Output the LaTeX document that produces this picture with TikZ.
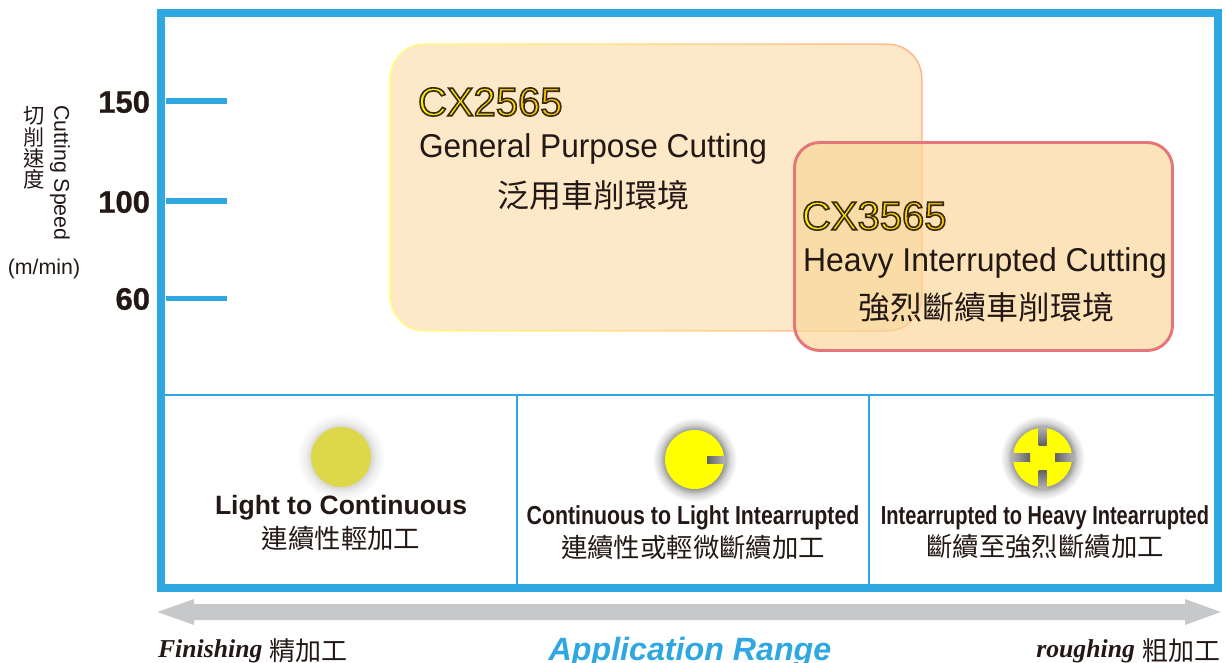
\documentclass[tikz,border=0pt]{standalone}
\usepackage{fontspec}
\setmainfont{Liberation Sans}
\newfontfamily\cjk{Noto Sans CJK TC}
\newfontfamily\tms{Liberation Serif}
\newfontfamily\modelf[FakeBold=4]{Liberation Sans}
\newfontfamily\heavyf[FakeBold=.8]{Liberation Sans}
\usetikzlibrary{calc}
\definecolor{frameblue}{HTML}{2FA8E1}
\definecolor{ink}{HTML}{231815}
\definecolor{arrowgrey}{HTML}{C7C8CA}
\definecolor{boxa}{HTML}{FDE9C8}
\definecolor{boxb}{HTML}{FAD698}
\definecolor{boxbline}{HTML}{E4757A}
\definecolor{dotdull}{HTML}{DDD84A}
\definecolor{dotyellow}{HTML}{FFFF00}
\pgfdeclareradialshading{glowlight}{\pgfpoint{0bp}{0bp}}{color(0bp)=(black!16); color(17bp)=(black!16); color(20bp)=(black!7); color(25bp)=(white); color(50bp)=(white)}
\pgfdeclareradialshading{glowdark}{\pgfpoint{0bp}{0bp}}{color(0bp)=(black!42); color(16.5bp)=(black!42); color(20bp)=(black!16); color(24bp)=(white); color(50bp)=(white)}
\newcommand{\fs}[1]{\fontsize{#1}{#1}\selectfont}
\newcommand{\ltr}[2]{\special{color push rgb #1}\special{pdf:code 0.22 0.17 0.07 RG}#2\special{color pop}}
\newcommand{\modelname}[6]{\ltr{1 .94 0}{#1}\ltr{1 .90 0}{#2}\ltr{1 .87 0}{#3}\ltr{1 .84 0}{#4}\ltr{1 .81 0}{#5}\ltr{1 .78 0}{#6}}
\tikzset{
  every node/.style={inner sep=0pt,outer sep=0pt,text=ink},
  tick/.style={draw=frameblue,line width=3.8pt},
  divider/.style={draw=frameblue,line width=1.5pt},
  speed/.style={font=\heavyf\bfseries\fs{23.25pt},anchor=east},
  modeltxt/.style={font=\modelf\fs{30pt},anchor=west},
  engtxt/.style={font=\fs{24.75pt},anchor=west,transform shape},
  cjktxt/.style={font=\cjk\fs{24pt}},
  boldcap/.style={font=\bfseries\fs{19.9pt}},
  narrowcap/.style={font=\bfseries\fs{19.5pt},transform shape},
  cjkcap/.style={font=\cjk\fs{19.8pt}},
  axistxt/.style={font=\fs{16pt}},
  endtxt/.style={font=\tms\bfseries\itshape\fs{19.3pt}},
  notchh/.style={left color=black!62,right color=black!30},
  notchr/.style={left color=black!30,right color=black!62},
  notchv/.style={top color=black!30,bottom color=black!62},
  notchu/.style={top color=black!62,bottom color=black!30},
}
\begin{document}
\begin{tikzpicture}[x=.75pt,y=-.75pt]
\useasboundingbox (0,0) rectangle (1225,663);
% frame
\draw[frameblue,line width=6pt,line join=miter] (161.3,13.5) rectangle (1218,588);
\draw[divider] (165,395) -- (1214,395);
\draw[divider] (517,395) -- (517,584);
\draw[divider] (869,395) -- (869,584);
% ticks
\draw[tick] (166,101) -- (227,101);
\draw[tick] (166,201) -- (227,201);
\draw[tick] (166,298.5) -- (227,298.5);
\node[speed] (s150) at (150,102) {150};
\node[speed] (s100) at (150,202) {100};
\node[speed] (s60) at (150,299) {60};
% axis labels
\node[axistxt,rotate=-90] (axen) at (60,173) {Cutting Speed};
\node[font=\cjk\fs{16pt},align=center] (axzh) at (34,148) {切\\削\\速\\度};
\node[axistxt] (axunit) at (44,269) {(m/min)};
% boxes
\shade[left color=yellow!50!white,right color=red!35!orange!45!white,rounded corners=26pt] (389.5,43.5) rectangle (922.5,331.5);
\fill[boxa,rounded corners=25pt] (391,45) rectangle (921,330);
\node[modeltxt] (m1) at (418,102) {\modelname CX2565};
\node[engtxt,xscale=.958] (e1) at (419,149) {General Purpose Cutting};
\node[cjktxt] (z1) at (593.5,195) {泛用車削環境};
\draw[draw=boxbline,line width=2.2pt,fill=boxb,fill opacity=.68,rounded corners=19pt] (794.5,142.5) rectangle (1172.5,350.5);
\node[modeltxt] (m2) at (802,216) {\modelname CX3565};
\node[engtxt,xscale=.968] (e2) at (803,263) {Heavy Interrupted Cutting};
\node[cjktxt] (z2) at (986.5,307) {強烈斷續車削環境};
% dots
\shade[shading=glowlight] (341,457) circle (44);
\fill[dotdull] (341,457) circle (30);
\shade[shading=glowdark] (694.5,459.5) circle (44);
\fill[dotyellow] (694.5,459.5) circle (29.5);
\shade[notchh] (707,456) rectangle (724.5,463);
\shade[shading=glowdark] (1042.5,457.5) circle (44);
\fill[dotyellow] (1042.5,457.5) circle (29.5);
\shade[notchv] (1038.5,427) rectangle (1046.5,445);
\shade[notchu] (1038.5,470) rectangle (1046.5,488);
\shade[notchr] (1012,453.5) rectangle (1030,461.5);
\shade[notchh] (1055,453.5) rectangle (1073,461.5);
% captions
\node[boldcap] (c1) at (341,508) {Light to Continuous};
\node[cjkcap] (d1) at (341,538) {連續性輕加工};
\node[narrowcap,xscale=.82] (c2) at (693,518) {Continuous to Light Intearrupted};
\node[cjkcap] (d2) at (693,547) {連續性或輕微斷續加工};
\node[narrowcap,xscale=.77] (c3) at (1045,518) {Intearrupted to Heavy Intearrupted};
\node[cjkcap] (d3) at (1045,547) {斷續至強烈斷續加工};
% range arrow
\fill[arrowgrey] (157.5,612) -- (194,599) -- (194,604) -- (1185,604) -- (1185,599) -- (1220.7,612) -- (1185,625) -- (1185,620) -- (194,620) -- (194,625) -- cycle;
\node[endtxt,anchor=base west] (fin) at (158,657) {Finishing};
\node[font=\cjk\fs{19.5pt},anchor=base west] (finz) at (269,660) {精加工};
\node[font=\bfseries\itshape\fs{24.15pt},text=frameblue,anchor=base] (range) at (690,660) {Application Range};
\node[endtxt,anchor=base east] (rou) at (1135,657) {roughing};
\node[font=\cjk\fs{19.5pt},anchor=base east] (rouz) at (1220,660) {粗加工};
\end{tikzpicture}
\end{document}
